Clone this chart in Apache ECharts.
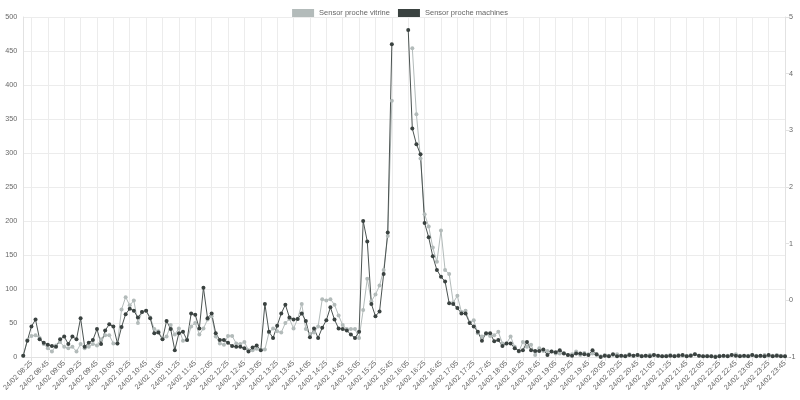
<!DOCTYPE html>
<html>
<head>
<meta charset="utf-8">
<script src="https://cdn.jsdelivr.net/npm/echarts@6/dist/echarts.min.js"></script>
<style>html,body{margin:0;padding:0;background:#fff}#c{width:800px;height:400px}</style>
</head>
<body>
<div id="c"></div>
<script>
const categories = [
"24/02 08:15","24/02 08:20","24/02 08:25","24/02 08:30","24/02 08:35","24/02 08:40","24/02 08:45","24/02 08:50","24/02 08:55",
"24/02 09:00","24/02 09:05","24/02 09:10","24/02 09:15","24/02 09:20","24/02 09:25","24/02 09:30","24/02 09:35","24/02 09:40","24/02 09:45","24/02 09:50","24/02 09:55",
"24/02 10:00","24/02 10:05","24/02 10:10","24/02 10:15","24/02 10:20","24/02 10:25","24/02 10:30","24/02 10:35","24/02 10:40","24/02 10:45","24/02 10:50","24/02 10:55",
"24/02 11:00","24/02 11:05","24/02 11:10","24/02 11:15","24/02 11:20","24/02 11:25","24/02 11:30","24/02 11:35","24/02 11:40","24/02 11:45","24/02 11:50","24/02 11:55",
"24/02 12:00","24/02 12:05","24/02 12:10","24/02 12:15","24/02 12:20","24/02 12:25","24/02 12:30","24/02 12:35","24/02 12:40","24/02 12:45","24/02 12:50","24/02 12:55",
"24/02 13:00","24/02 13:05","24/02 13:10","24/02 13:15","24/02 13:20","24/02 13:25","24/02 13:30","24/02 13:35","24/02 13:40","24/02 13:45","24/02 13:50","24/02 13:55",
"24/02 14:00","24/02 14:05","24/02 14:10","24/02 14:15","24/02 14:20","24/02 14:25","24/02 14:30","24/02 14:35","24/02 14:40","24/02 14:45","24/02 14:50","24/02 14:55",
"24/02 15:00","24/02 15:05","24/02 15:10","24/02 15:15","24/02 15:20","24/02 15:25","24/02 15:30","24/02 15:35","24/02 15:40","24/02 15:45","24/02 15:50","24/02 15:55",
"24/02 16:00","24/02 16:05","24/02 16:10","24/02 16:15","24/02 16:20","24/02 16:25","24/02 16:30","24/02 16:35","24/02 16:40","24/02 16:45","24/02 16:50","24/02 16:55",
"24/02 17:00","24/02 17:05","24/02 17:10","24/02 17:15","24/02 17:20","24/02 17:25","24/02 17:30","24/02 17:35","24/02 17:40","24/02 17:45","24/02 17:50","24/02 17:55",
"24/02 18:00","24/02 18:05","24/02 18:10","24/02 18:15","24/02 18:20","24/02 18:25","24/02 18:30","24/02 18:35","24/02 18:40","24/02 18:45","24/02 18:50","24/02 18:55",
"24/02 19:00","24/02 19:05","24/02 19:10","24/02 19:15","24/02 19:20","24/02 19:25","24/02 19:30","24/02 19:35","24/02 19:40","24/02 19:45","24/02 19:50","24/02 19:55",
"24/02 20:00","24/02 20:05","24/02 20:10","24/02 20:15","24/02 20:20","24/02 20:25","24/02 20:30","24/02 20:35","24/02 20:40","24/02 20:45","24/02 20:50","24/02 20:55",
"24/02 21:00","24/02 21:05","24/02 21:10","24/02 21:15","24/02 21:20","24/02 21:25","24/02 21:30","24/02 21:35","24/02 21:40","24/02 21:45","24/02 21:50","24/02 21:55",
"24/02 22:00","24/02 22:05","24/02 22:10","24/02 22:15","24/02 22:20","24/02 22:25","24/02 22:30","24/02 22:35","24/02 22:40","24/02 22:45","24/02 22:50","24/02 22:55",
"24/02 23:00","24/02 23:05","24/02 23:10","24/02 23:15","24/02 23:20","24/02 23:25","24/02 23:30","24/02 23:35","24/02 23:40","24/02 23:45"
];

const seriesNames = ["Sensor proche vitrine", "Sensor proche machines"];

const vitrine = [
2,25,31,32,28,19,13,8,17,22,15,13,15,8,19,13,15,19,17,26,32,32,20,20,70,88,76,83,50,66,68,58,41,38,27,30,47,33,42,24,25,45,50,33,
42,55,60,30,20,18,31,31,20,19,22,10,10,12,11,11,36,42,38,36,50,56,42,56,78,41,34,36,45,85,83,85,77,61,47,41,41,41,28,69,115,82,92,105,128,178,377,
null,null,null,null,
454,357,292,210,192,161,140,186,128,122,80,90,66,68,51,54,35,30,34,31,32,37,20,20,30,15,8,22,15,18,3,13,9,9,8,5,5,6,3,4,8,3,6,4,5,3,1,
3,2,3,4,2,2,4,2,3,2,2,3,3,2,1,2,3,2,3,2,2,3,4,2,1,2,1,1,2,1,2,3,4,2,1,2,3,2,1,3,2,2,3,2,1
];

const machines = [
2,24,45,55,26,21,18,16,15,26,30,19,30,26,57,15,21,25,41,19,39,48,45,20,44,63,71,68,58,66,68,57,35,36,26,53,41,10,35,37,25,64,62,42,
102,57,64,35,25,25,21,16,15,15,13,8,14,17,10,78,37,28,46,64,77,58,55,56,64,53,29,42,28,43,54,73,55,42,41,39,33,28,37,200,170,78,60,67,122,183,460,
null,null,null,
481,336,313,298,197,176,148,128,118,111,79,78,72,64,64,50,45,37,24,35,35,23,25,16,20,20,13,9,10,22,10,9,9,11,3,8,7,10,5,3,2,5,5,4,3,10,4,0,
2,1,4,1,2,1,3,2,3,1,2,1,3,2,1,1,2,1,2,3,1,2,4,2,1,1,1,0,1,2,1,3,2,1,2,1,3,1,2,1,3,1,2,1,1
];

const leftTicks = {min: 0, max: 500, step: 50};
const rightTicks = {min: -1, max: 5, step: 1};

const colors = ["#b3bbba", "#3a4240"];
const FONT = "'Liberation Sans', Arial, sans-serif";
const showIdx = (idx) => idx % 4 === 2;

const chart = echarts.init(document.getElementById('c'), null, {renderer: 'canvas'});
chart.setOption({
  animation: false,
  textStyle: {fontFamily: FONT},
  color: colors,
  legend: {
    top: 4, left: 'center',
    itemWidth: 22, itemHeight: 8, itemGap: 8,
    icon: 'rect',
    textStyle: {fontSize: 7.5, color: '#666', fontFamily: FONT},
    data: seriesNames
  },
  grid: {left: 23, right: 15, top: 17, bottom: 43, containLabel: false},
  xAxis: {
    type: 'category',
    boundaryGap: false,
    data: categories,
    axisLine: {lineStyle: {color: '#e2e2e2'}},
    axisTick: {show: true, interval: showIdx, length: 4, lineStyle: {color: '#e2e2e2'}},
    splitLine: {show: true, interval: showIdx, lineStyle: {color: '#ececec'}},
    axisLabel: {interval: showIdx, rotate: 45, fontSize: 7.2, color: '#666', margin: 5, fontFamily: FONT}
  },
  yAxis: [
    {
      type: 'value', min: leftTicks.min, max: leftTicks.max, interval: leftTicks.step,
      axisLine: {show: true, lineStyle: {color: '#e2e2e2'}},
      axisTick: {show: false},
      splitLine: {lineStyle: {color: '#ececec'}},
      axisLabel: {fontSize: 7.2, color: '#666', margin: 6, fontFamily: FONT}
    },
    {
      type: 'value', min: rightTicks.min, max: rightTicks.max, interval: rightTicks.step,
      position: 'right',
      axisLine: {show: true, lineStyle: {color: '#e2e2e2'}},
      axisTick: {show: true, length: 4, lineStyle: {color: '#e2e2e2'}},
      splitLine: {show: false},
      axisLabel: {fontSize: 7.2, color: '#666', margin: 4, fontFamily: FONT}
    }
  ],
  series: [
    {
      name: seriesNames[0], type: 'line', data: vitrine, yAxisIndex: 0,
      symbol: 'circle', symbolSize: 4, showSymbol: true, showAllSymbol: true, connectNulls: false,
      lineStyle: {width: 1, color: colors[0]},
      itemStyle: {color: colors[0]}
    },
    {
      name: seriesNames[1], type: 'line', data: machines, yAxisIndex: 0,
      symbol: 'circle', symbolSize: 4, showSymbol: true, showAllSymbol: true, connectNulls: false,
      lineStyle: {width: 1, color: '#4b5351'},
      itemStyle: {color: colors[1]}
    }
  ]
});
</script>
</body>
</html>
